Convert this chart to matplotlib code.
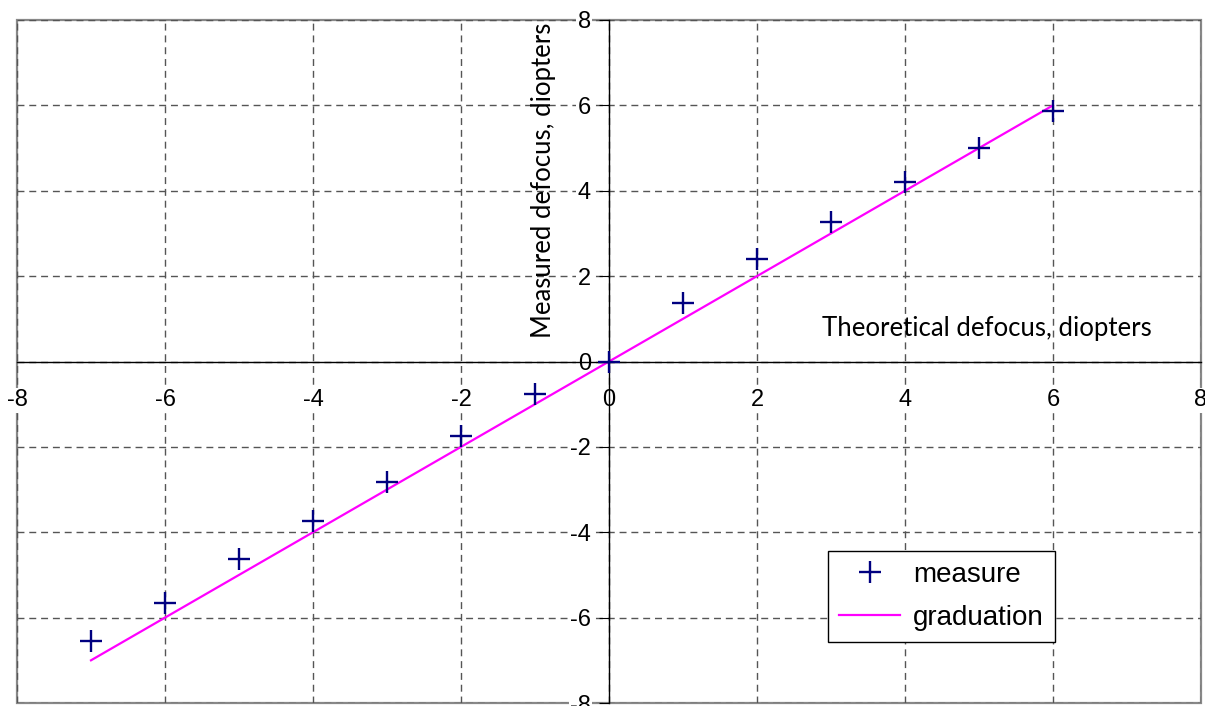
import matplotlib
matplotlib.use('Agg')
import matplotlib.pyplot as plt
from matplotlib.patches import Rectangle

# theoretical vs measured defocus (diopters)
theoretical = [-7, -6, -5, -4, -3, -2, -1, 0, 1, 2, 3, 4, 5, 6]
measured = [-6.55, -5.66, -4.63, -3.73, -2.82, -1.74, -0.76, 0.0,
            1.38, 2.40, 3.27, 4.20, 5.00, 5.87]
graduation_x = [-7, 6]
graduation_y = [-7, 6]
ticks = [-8, -6, -4, -2, 0, 2, 4, 6, 8]

plt.rcParams['font.family'] = ['Liberation Sans', 'DejaVu Sans']
plt.rcParams['axes.unicode_minus'] = False

fig = plt.figure(figsize=(12.05, 7.06), dpi=100)
ax = fig.add_axes([17 / 1205, 3 / 706, 1184 / 1205, 683 / 706])

ax.set_xlim(-8, 8)
ax.set_ylim(-8, 8)
ax.set_xticks(ticks)
ax.set_yticks(ticks)

# dashed grid
ax.grid(True, color='#555555', linestyle=(0, (5, 3.5)), linewidth=1)

# axes crossing at zero, grey frame around plot area
for s in ['top', 'right']:
    ax.spines[s].set_visible(False)
for s in ['left', 'bottom']:
    ax.spines[s].set_position(('data', 0))
    ax.spines[s].set_color('black')
    ax.spines[s].set_linewidth(1)
ax.add_patch(Rectangle((0, 0), 1, 1, transform=ax.transAxes, fill=False,
                       edgecolor='#888888', linewidth=1.6, zorder=1, clip_on=False))

ax.tick_params(axis='x', length=0, pad=20, labelsize=17)
ax.tick_params(axis='y', direction='out', length=7, pad=6, labelsize=17)
for lab in ax.get_yticklabels() + ax.get_xticklabels():
    lab.set_bbox(dict(facecolor='white', edgecolor='none', pad=1))

ax.plot(theoretical, measured, linestyle='none', marker='+', markersize=16,
        markeredgewidth=1.7, color='#000080', label='measure', zorder=3)
ax.plot(graduation_x, graduation_y, color='#ff00ff', linewidth=1.6,
        label='graduation', zorder=2)

# axis titles placed near the crossing axes
ax.text(2.88, 0.78, 'Theoretical defocus, diopters', family='Lato',
        fontsize=18.5, ha='left', va='center')
ax.text(-0.88, 4.25, 'Measured defocus, diopters', family='Lato',
        fontsize=18.5, rotation=90, ha='center', va='center')

leg = ax.legend(loc='upper left', bbox_to_anchor=(828 / 1205, 1 - 551 / 706),
                bbox_transform=fig.transFigure, fontsize=20, fancybox=False,
                framealpha=1, edgecolor='black', handlelength=2.2,
                borderpad=0.4, labelspacing=0.6, handletextpad=0.45,
                borderaxespad=0)
leg.get_frame().set_linewidth(1)

plt.savefig('out.png', dpi=100)
